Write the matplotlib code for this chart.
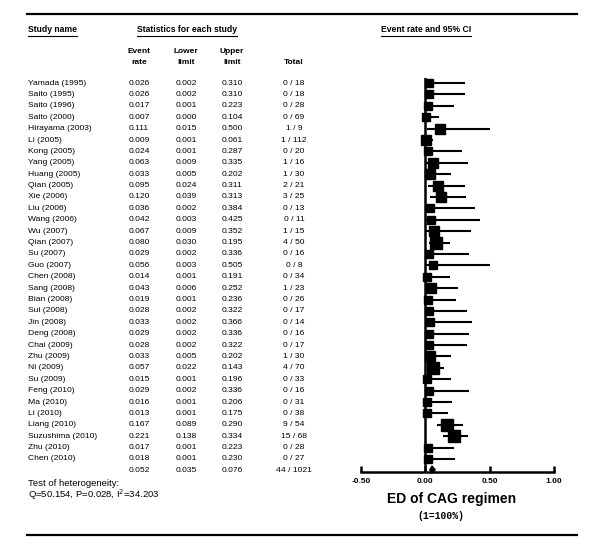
import numpy as np
import matplotlib
matplotlib.use("Agg")
import matplotlib.pyplot as plt
import matplotlib.transforms as mtransforms
from matplotlib.lines import Line2D

plt.rcParams['font.family'] = ['Liberation Sans', 'DejaVu Sans']

studies = ["Yamada (1995)", "Saito (1995)", "Saito (1996)", "Saito (2000)", "Hirayama (2003)",
           "Li (2005)", "Kong (2005)", "Yang (2005)", "Huang (2005)", "Qian (2005)", "Xie (2006)",
           "Liu (2006)", "Wang (2006)", "Wu (2007)", "Qian (2007)", "Su (2007)", "Guo (2007)",
           "Chen (2008)", "Sang (2008)", "Bian (2008)", "Sui (2008)", "Jin (2008)", "Deng (2008)",
           "Chai (2009)", "Zhu (2009)", "Ni (2009)", "Su (2009)", "Feng (2010)", "Ma (2010)",
           "Li (2010)", "Liang (2010)", "Suzushima (2010)", "Zhu (2010)", "Chen (2010)"]
rate = [0.026, 0.026, 0.017, 0.007, 0.111, 0.009, 0.024, 0.063, 0.033, 0.095, 0.120,
        0.036, 0.042, 0.067, 0.080, 0.029, 0.056, 0.014, 0.043, 0.019, 0.028, 0.033, 0.029,
        0.028, 0.033, 0.057, 0.015, 0.029, 0.016, 0.013, 0.167, 0.221, 0.017, 0.018]
lower = [0.002, 0.002, 0.001, 0.000, 0.015, 0.001, 0.001, 0.009, 0.005, 0.024, 0.039,
         0.002, 0.003, 0.009, 0.030, 0.002, 0.003, 0.001, 0.006, 0.001, 0.002, 0.002, 0.002,
         0.002, 0.005, 0.022, 0.001, 0.002, 0.001, 0.001, 0.089, 0.138, 0.001, 0.001]
upper = [0.310, 0.310, 0.223, 0.104, 0.500, 0.061, 0.287, 0.335, 0.202, 0.311, 0.313,
         0.384, 0.425, 0.352, 0.195, 0.336, 0.505, 0.191, 0.252, 0.236, 0.322, 0.366, 0.336,
         0.322, 0.202, 0.143, 0.196, 0.336, 0.206, 0.175, 0.290, 0.334, 0.223, 0.230]
events = [0, 0, 0, 0, 1, 1, 0, 1, 1, 2, 3, 0, 0, 1, 4, 0, 0, 0, 1, 0, 0, 0, 0,
          0, 1, 4, 0, 0, 0, 0, 9, 15, 0, 0]
totals = [18, 18, 28, 69, 9, 112, 20, 16, 30, 21, 25, 13, 11, 15, 50, 16, 8, 34, 23, 26, 17, 14, 16,
          17, 30, 70, 33, 16, 31, 38, 54, 68, 28, 27]
pooled = (0.052, 0.035, 0.076)
pooled_total = "44 / 1021"
het_q, het_p, het_i2 = 50.154, 0.028, 34.203
xticks = [-0.5, 0.0, 0.5, 1.0]

W, H = 600, 550
fig = plt.figure(figsize=(6, 5.5), dpi=100)

def fx(px):
    return px / W

def fy(py):
    return 1 - py / H

n = len(studies)
row0, step = 83.1, 11.39
y_axis_px = 472.3
y_top_px = 78
ymax = (y_axis_px - row0) / step
ymin = (y_top_px - row0) / step

ax = fig.add_axes([fx(361), fy(y_axis_px), fx(554) - fx(361), (y_axis_px - y_top_px) / H])
ax.set_xlim(-0.5, 1.0)
ax.set_ylim(ymax, ymin)
for s in ["top", "left", "right"]:
    ax.spines[s].set_visible(False)
ax.spines["bottom"].set_linewidth(1.8)
ax.set_yticks([])
ax.set_xticks(xticks)
ax.set_xticklabels(["%.2f" % t for t in xticks], fontsize=6, fontweight="bold")
ax.tick_params(axis="x", direction="in", length=4, width=1.8, pad=4)
ax.patch.set_visible(False)

ax.axvline(0, color="black", lw=1.8, zorder=1)

# marker size from approximate weights (logit variance)
r = np.array(rate)
t = np.array(totals)
var = 1 / np.maximum(t * r * (1 - r), 0.3)
w = np.sqrt(1 / (var + 0.5))
msize = (8 + 4 * (w - w.min()) / (w.max() - w.min())) * 72 / 100

ys = np.arange(n)
ax.hlines(ys, lower, upper, color="black", lw=1.5, zorder=2)
for i in range(n):
    ax.plot(rate[i], ys[i], marker="s", ms=msize[i], color="black", mec="black", zorder=3)

# pooled diamond
yd = n
ax.fill([pooled[1], pooled[0], pooled[2], pooled[0]], [yd - 0.05, yd - 0.38, yd - 0.05, yd + 0.28],
        color="black", zorder=3, clip_on=False)

# table text, rows aligned with forest axis
tr = mtransforms.blended_transform_factory(fig.transFigure, ax.transData)
fs = 6.1
for i in range(n):
    fig.text(fx(28), ys[i], studies[i], transform=tr, fontsize=fs, va="center", ha="left")
    fig.text(fx(139), ys[i], "%.3f" % rate[i], transform=tr, fontsize=fs, va="center", ha="center")
    fig.text(fx(186), ys[i], "%.3f" % lower[i], transform=tr, fontsize=fs, va="center", ha="center")
    fig.text(fx(232), ys[i], "%.3f" % upper[i], transform=tr, fontsize=fs, va="center", ha="center")
    fig.text(fx(294), ys[i], "%d / %d" % (events[i], totals[i]), transform=tr, fontsize=fs,
             va="center", ha="center")
fig.text(fx(139), yd, "%.3f" % pooled[0], transform=tr, fontsize=fs, va="center", ha="center")
fig.text(fx(186), yd, "%.3f" % pooled[1], transform=tr, fontsize=fs, va="center", ha="center")
fig.text(fx(232), yd, "%.3f" % pooled[2], transform=tr, fontsize=fs, va="center", ha="center")
fig.text(fx(294), yd, pooled_total, transform=tr, fontsize=fs, va="center", ha="center")

# column headers
hdr = dict(fontsize=6, fontweight="bold", va="center", ha="center")
fig.text(fx(139), fy(52), "Event", **hdr)
fig.text(fx(139), fy(63), "rate", **hdr)
fig.text(fx(186), fy(52), "Lower", **hdr)
fig.text(fx(186), fy(63), "limit", **hdr)
fig.text(fx(232), fy(52), "Upper", **hdr)
fig.text(fx(232), fy(63), "limit", **hdr)
fig.text(fx(294), fy(63), "Total", **hdr)

titles = [
    fig.text(fx(28), fy(30), "Study name", fontsize=6.2, fontweight="bold", va="center", ha="left"),
    fig.text(fx(187), fy(30), "Statistics for each study", fontsize=6.2, fontweight="bold",
             va="center", ha="center"),
    fig.text(fx(426), fy(30), "Event rate and 95% CI", fontsize=6.2, fontweight="bold",
             va="center", ha="center"),
]

# heterogeneity
fig.text(fx(28), fy(484), "Test of heterogeneity:", fontsize=6.8, va="center", ha="left")
fig.text(fx(28), fy(495), "Q=%.3f, P=%.3f, I$^2$=%.3f" % (het_q, het_p, het_i2), fontsize=6.8,
         va="center", ha="left")

# axis title
fig.text(fx(452), fy(499), "ED of CAG regimen", fontsize=10, fontweight="bold", va="center", ha="center")
fig.text(fx(441), fy(516), "(1=100%)", fontsize=7, fontweight="bold", va="center", ha="center",
         family=["Liberation Mono", "DejaVu Sans Mono"])

# frame lines
fig.add_artist(Line2D([fx(27), fx(577)], [fy(13.5), fy(13.5)], color="black", lw=1.6))
fig.add_artist(Line2D([fx(27), fx(577)], [fy(535), fy(535)], color="black", lw=1.6))

# underline headers
fig.canvas.draw()
rend = fig.canvas.get_renderer()
for tt in titles:
    bb = tt.get_window_extent(rend)
    yline = bb.y0 - 1.5
    fig.add_artist(Line2D([bb.x0 / W, bb.x1 / W], [yline / H, yline / H], color="black", lw=0.8))

fig.savefig("out.png", dpi=100)
